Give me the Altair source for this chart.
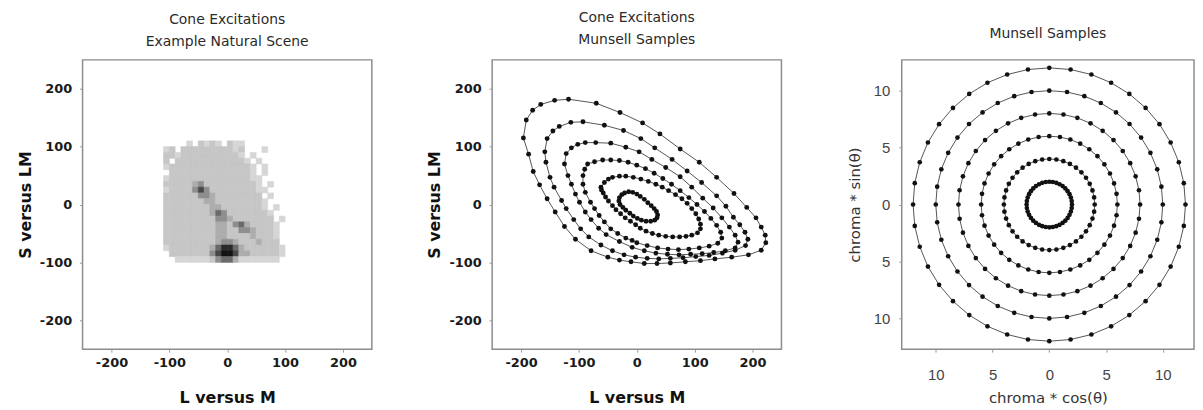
import altair as alt
import pandas as pd

# ---------------- Panel 1: density of cone excitations (grid)
DENSITY_ROWS = [
    "....1.2121.211.......",
    "12.22222222212...1...",
    "22122222222221.1.....",
    "2.2222222222221.1....",
    "1222222222222221.1...",
    ".222222222222221.1...",
    "12222222222222211....",
    "22222342222222221.1..",
    "122224642222222211...",
    "22222244322222222.1..",
    "222222233222222221...",
    "222222223322222221.1.",
    "2222222235422222221..",
    "2222222224432222222.1",
    "22222222233245322221.",
    "22222222233224432221.",
    "22222222233222232221.",
    "22222222234432223222.",
    "122222223577532222221",
    ".22222224688633222221",
    "..111111245531111111.",
]
GRID_X_START = -110
GRID_Y_TOP = 110
CELL = 10
GRAY_LEVELS = ["1", "2", "3", "4", "5", "6", "7", "8"]
GRAY_COLORS = ["#d6d6d6", "#c6c6c6", "#adadad", "#8e8e8e", "#6a6a6a", "#474747", "#2a2a2a", "#121212"]

# ---------------- Panel 2: Munsell samples in cone space (x, y) per chroma ring
M_C12 = [(-196,115),(-191,146),(-180,163),(-166,173),(-142,180),(-118,182),(-70,175),(-29,159),(10,141),(40,122),
         (75,96),(108,73),(138,47),(168,19),(190,-5),(206,-23),(215,-39),(222,-53),(223,-66),(215,-79),
         (193,-87),(164,-91),(135,-94),(110,-97),(84,-99),(58,-101),(35,-102),(13,-102),(-10,-99),(-30,-96),
         (-50,-91),(-79,-80),(-106,-60),(-125,-38),(-141,-13),(-155,10),(-168,34),(-179,57),(-187,87)]
M_C10 = [(-159,91),(-155,114),(-145,127),(-134,135),(-114,142),(-93,143),(-56,137),(-23,128),(7,114),(31,98),
         (61,78),(87,58),(112,38),(138,15),(154,-3),(167,-22),(178,-35),(187,-48),(192,-60),(188,-71),
         (170,-79),(148,-84),(125,-88),(102,-90),(80,-92),(58,-93),(38,-94),(18,-93),(-2,-91),(-22,-87),
         (-42,-80),(-62,-70),(-83,-56),(-97,-42),(-109,-26),(-122,-7),(-130,7),(-143,30),(-150,47),(-157,73)]
M_C8 = [(-125,70),(-122,88),(-113,98),(-102,104),(-89,107),(-71,107),(-45,106),(-19,99),(4,91),(26,78),
        (50,64),(75,48),(95,30),(114,11),(132,-6),(147,-23),(160,-39),(170,-53),(175,-65),(170,-75),
        (153,-80),(133,-83),(113,-85),(93,-86),(73,-87),(53,-86),(33,-84),(13,-80),(-8,-74),(-30,-64),
        (-53,-52),(-66,-41),(-79,-26),(-89,-13),(-99,4),(-106,18),(-113,35),(-119,50)]
M_C6 = [(-93,50),(-90,61),(-85,70),(-73,74),(-59,77),(-45,77),(-30,76),(-15,73),(0,68),(15,62),
        (30,54),(45,45),(60,35),(75,24),(90,12),(104,0),(117,-12),(128,-24),(138,-36),(145,-48),
        (147,-58),(140,-67),(125,-72),(108,-75),(90,-77),(72,-78),(54,-77),(36,-75),(18,-71),(0,-66),
        (-8,-62),(-19,-58),(-33,-50),(-45,-42),(-56,-30),(-65,-19),(-73,-7),(-80,4),(-89,21),(-93,35)]
M_C4 = [(-62,30),(-56,38),(-49,44),(-42,47),(-30,49),(-19,49),(-6,47),(7,44),(20,40),(33,35),
        (44,30),(55,24),(67,17),(78,10),(87,2),(95,-7),(102,-16),(107,-25),(110,-34),(110,-42),
        (105,-49),(95,-53),(85,-55),(74,-56),(62,-56),(50,-55),(38,-53),(27,-50),(16,-46),(6,-41),
        (-2,-35),(-11,-29),(-20,-23),(-28,-16),(-36,-9),(-42,-2),(-49,6),(-54,13),(-58,20),(-61,25)]
M_C2 = [(-31,6),(-30,12),(-26,17),(-21,20),(-14,22),(-7,21),(0,18),(6,14),(13,9),(19,3),
        (25,-2),(30,-7),(34,-12),(36,-18),(35,-23),(31,-27),(24,-29),(16,-29),(8,-27),(1,-24),
        (-6,-20),(-12,-15),(-19,-10),(-24,-5),(-29,0)]
CONE_RINGS = {2: M_C2, 4: M_C4, 6: M_C6, 8: M_C8, 10: M_C10, 12: M_C12}

# ---------------- Panel 3: Munsell chroma rings over the 40 hues
CHROMAS = [2, 4, 6, 8, 10, 12]
HUES = [f"{s}{h}" for h in ["R", "YR", "Y", "GY", "G", "BG", "B", "PB", "P", "RP"]
        for s in ["2.5", "5", "7.5", "10"]]

AXIS_TICKS_CONE = [-200, -100, 0, 100, 200]
AXIS_TICKS_CHROMA = [-10, -5, 0, 5, 10]

TITLE_FONT = "DejaVu Sans"
LABEL_FONT = "Liberation Sans"

# ---------------- build tables
cells = []
for r, row in enumerate(DENSITY_ROWS):
    for c, ch in enumerate(row):
        if ch != ".":
            cells.append({"col": c, "row": r, "level": ch})
df1 = pd.DataFrame(cells)

df2 = pd.DataFrame([{"ring": k, "i": i, "x": x, "y": y}
                    for k, pts in CONE_RINGS.items() for i, (x, y) in enumerate(pts)])

df3 = pd.DataFrame([{"chroma": c, "hue": h, "h": i}
                    for c in CHROMAS for i, h in enumerate(HUES)])

cone_scale = alt.Scale(domain=[-250, 250], nice=False, zero=False)


def cone_axis(title, orient):
    return alt.Axis(values=AXIS_TICKS_CONE, title=title, grid=False, domain=False,
                    labelExpr="'' + datum.value",
                    titleFont="DejaVu Sans", titleFontWeight="bold", titleFontSize=16, titleColor="#111",
                    labelFont="DejaVu Sans", labelFontWeight="bold", labelFontSize=13, labelColor="#1a1a1a",
                    tickSize=3, tickColor="#999",
                    labelPadding=(4 if orient == "x" else 8),
                    titlePadding=(21 if orient == "x" else 6))


def chroma_axis(title, orient):
    return alt.Axis(values=AXIS_TICKS_CHROMA, title=title, grid=False, domain=False,
                    labelExpr="'' + abs(datum.value)",
                    titleFont="DejaVu Sans", titleFontWeight="normal", titleFontSize=15, titleColor="#333",
                    labelFont=LABEL_FONT, labelFontWeight="normal", labelFontSize=15, labelColor="#444",
                    tickSize=3, tickColor="#999",
                    labelPadding=(16 if orient == "x" else 9),
                    titlePadding=(8 if orient == "x" else 11))


def ptitle(lines, offset):
    return alt.TitleParams(text=lines, font=TITLE_FONT, fontSize=14, fontWeight="normal",
                           color="#2a2a2a", lineHeight=22, offset=offset, anchor="middle")


W = 291
H = 291

p1 = alt.Chart(df1).transform_calculate(
    x0=f"{GRID_X_START} + {CELL} * datum.col",
    x1=f"{GRID_X_START} + {CELL} * (datum.col + 1)",
    y1=f"{GRID_Y_TOP} - {CELL} * datum.row",
    y0=f"{GRID_Y_TOP} - {CELL} * (datum.row + 1)",
).mark_rect(strokeWidth=0.6).encode(
    x=alt.X("x0:Q", scale=cone_scale, axis=cone_axis("L versus M", "x")),
    x2="x1:Q",
    y=alt.Y("y0:Q", scale=cone_scale, axis=cone_axis("S versus LM", "y")),
    y2="y1:Q",
    color=alt.Color("level:N", scale=alt.Scale(domain=GRAY_LEVELS, range=GRAY_COLORS), legend=None),
    stroke=alt.Stroke("level:N", scale=alt.Scale(domain=GRAY_LEVELS, range=GRAY_COLORS), legend=None),
).properties(width=W, height=H, title=ptitle(["Cone Excitations", "Example Natural Scene"], 11))

base2 = alt.Chart(df2).encode(
    x=alt.X("x:Q", scale=cone_scale, axis=cone_axis("L versus M", "x")),
    y=alt.Y("y:Q", scale=cone_scale, axis=cone_axis("S versus LM", "y")),
)
p2 = alt.layer(
    base2.mark_line(interpolate="linear-closed", color="#555", strokeWidth=1).encode(
        detail="ring:N", order="i:Q"),
    base2.mark_circle(color="#111", size=24, opacity=1),
).properties(width=W, height=H, title=ptitle(["Cone Excitations", "Munsell Samples"], 13))

base3 = alt.Chart(df3).transform_calculate(
    cx="datum.chroma * cos(datum.h * PI / 20)",
    cy="datum.chroma * sin(datum.h * PI / 20)",
).encode(
    x=alt.X("cx:Q", scale=alt.Scale(domain=[-13, 12.75], nice=False, zero=False),
            axis=chroma_axis("chroma * cos(θ)", "x")),
    y=alt.Y("cy:Q", scale=alt.Scale(domain=[-12.7, 12.7], nice=False, zero=False),
            axis=chroma_axis("chroma * sin(θ)", "y")),
)
p3 = alt.layer(
    base3.mark_line(interpolate="linear-closed", color="#555", strokeWidth=1).encode(
        detail="chroma:N", order="h:Q"),
    base3.mark_circle(color="#111", size=22, opacity=1),
).properties(width=294, height=H, title=ptitle("Munsell Samples", 19))

chart = alt.hconcat(p1, p2, p3, spacing=121, bounds="flush").configure_view(
    stroke="#8c8c8c", strokeWidth=1.5
).properties(padding={"left": 8, "top": 1, "right": 0, "bottom": 0})

chart.save("out.html", embed_options={"renderer": "svg", "actions": False})
